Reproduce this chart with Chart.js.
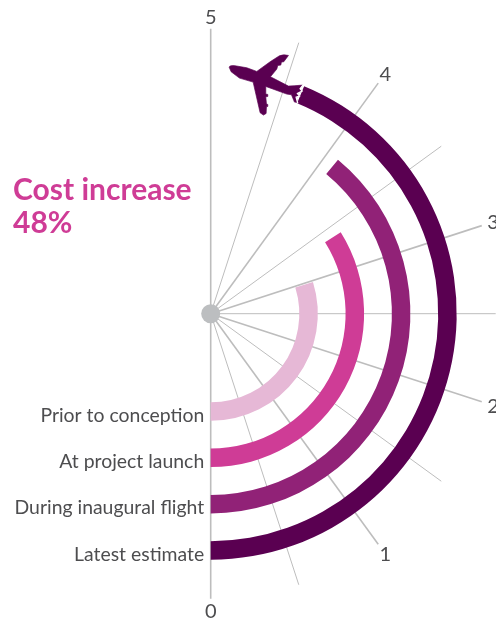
<!DOCTYPE html>
<html>
<head>
<meta charset="utf-8">
<title>Cost increase</title>
<script src="https://cdn.jsdelivr.net/npm/chart.js@4/dist/chart.umd.min.js"></script>
<style>
  html, body { margin: 0; padding: 0; background: #fff; }
  canvas { display: block; }
</style>
</head>
<body>
<canvas id="costChart" width="496" height="620"></canvas>
<script>
// data, outermost ring first
const categories = ['Latest estimate', 'During inaugural flight', 'At project launch', 'Prior to conception'];
const costValues = [4.38, 3.9, 3.39, 2.98];
const ringColors = ['#5a0051', '#912277', '#cf3c96', '#e6b8d6'];
const majorTicks = [0, 1, 2, 3, 4, 5];
const minorTicks = [0.5, 1.5, 2.5, 3.5, 4.5];
const axisMax = 5;
const headline = ['Cost increase', '48%'];

const FONT = 'Lato, sans-serif';
const GRID = '#bdbdbd';
const INK = '#4d4d4f';

// ring geometry in px
const OUTER_R = 246;
const RING_W = 18.5;
const RING_GAP = 27.8;
const SPOKE_R = 285;
const LABEL_R = 297;
const INNER_R = OUTER_R - categories.length * RING_W - (categories.length - 1) * RING_GAP;

// value 0 sits at the bottom, value 5 at the top, running through the right side
function valueAngle(v) {
  return Math.PI / 2 - v / axisMax * Math.PI;
}

function polar(c, r, v) {
  const a = valueAngle(v);
  return { x: c.x + r * Math.cos(a), y: c.y + r * Math.sin(a) };
}

function ringCentre(chart) {
  const arc = chart.getDatasetMeta(0).data[0];
  return { x: arc.x, y: arc.y };
}

// plane icon, 3 units to a px, origin offset from the end of the outer ring
const planeIcon = new Path2D('M27 68 Q29 62 45 64 L80 70 L110 81 L150 52 L178 34 Q190 29 205 33 L191 52 L184 53 L182 62 L173 63 L170 74 L151 97 L205 125 L222 124 L248 122 L240 133 L246 140 L232 147 L238 155 L228 158 L232 174 L223 173 L214 151 L200 149 L137 126 L137 149 L143 150 L143 156 L137 157 L139 179 L143 180 L143 186 L139 187 L138 207 L130 212 L120 205 L99 113 L58 101 L33 82 Z');
const planeTear = 'M250 120 L240 133 L246 140 L232 147 L238 155 L228 158 L233 177';

const radialDecor = {
  id: 'radialDecor',
  beforeDatasetsDraw(chart) {
    const ctx = chart.ctx;
    const c = ringCentre(chart);
    ctx.save();
    ctx.strokeStyle = GRID;
    ctx.lineWidth = 1;
    minorTicks.forEach(v => {
      const p = polar(c, SPOKE_R, v);
      ctx.beginPath();
      ctx.moveTo(c.x, c.y);
      ctx.lineTo(p.x, p.y);
      ctx.stroke();
    });
    ctx.lineWidth = 1.6;
    majorTicks.forEach(v => {
      const p = polar(c, SPOKE_R, v);
      ctx.beginPath();
      ctx.moveTo(c.x, c.y);
      ctx.lineTo(p.x, p.y);
      ctx.stroke();
    });
    ctx.restore();
  },
  afterDatasetsDraw(chart) {
    const ctx = chart.ctx;
    const c = ringCentre(chart);
    ctx.save();

    // hub
    ctx.fillStyle = '#bcbec0';
    ctx.beginPath();
    ctx.arc(c.x, c.y, 9.5, 0, Math.PI * 2);
    ctx.fill();

    // tick labels round the outside
    ctx.fillStyle = INK;
    ctx.font = '20px ' + FONT;
    ctx.textAlign = 'center';
    ctx.textBaseline = 'middle';
    majorTicks.forEach(v => {
      const p = polar(c, LABEL_R, v);
      ctx.fillText(String(v), p.x, p.y + 1);
    });

    // ring names, right aligned against the zero line
    ctx.textAlign = 'right';
    ctx.font = '19.4px ' + FONT;
    categories.forEach((name, i) => {
      const arc = chart.getDatasetMeta(i * 2).data[1];
      const mid = (arc.innerRadius + arc.outerRadius) / 2;
      ctx.fillText(name, c.x - 6.5, c.y + mid + 4);
    });

    // headline
    ctx.fillStyle = '#cf3c96';
    ctx.font = '700 30px ' + FONT;
    ctx.textAlign = 'left';
    ctx.textBaseline = 'alphabetic';
    ctx.fillText(headline[0], 13, 200);
    ctx.fillText(headline[1], 13, 233);

    // plane at the head of the outer ring
    const tip = polar(c, OUTER_R, costValues[0]);
    ctx.translate(tip.x - 84, tip.y - 41.7);
    ctx.scale(1 / 3, 1 / 3);
    ctx.fillStyle = ringColors[0];
    ctx.strokeStyle = ringColors[0];
    ctx.lineWidth = 2;
    ctx.fill(planeIcon);
    ctx.stroke(planeIcon);
    ctx.strokeStyle = '#fff';
    ctx.lineWidth = 4;
    ctx.stroke(new Path2D(planeTear));
    ctx.restore();
  }
};

// each ring is followed by a see-through spacer ring
const datasets = [];
categories.forEach((name, i) => {
  datasets.push({
    label: name,
    data: [axisMax - costValues[i], costValues[i]],
    backgroundColor: ['rgba(0,0,0,0)', ringColors[i]],
    weight: RING_W
  });
  if (i < categories.length - 1) {
    datasets.push({
      label: 'gap',
      data: [axisMax],
      backgroundColor: 'rgba(0,0,0,0)',
      weight: RING_GAP
    });
  }
});

new Chart(document.getElementById('costChart'), {
  type: 'doughnut',
  data: { labels: ['rest', 'value'], datasets: datasets },
  options: {
    responsive: false,
    animation: false,
    rotation: 0,
    circumference: 180,
    radius: OUTER_R,
    cutout: (INNER_R / OUTER_R * 100) + '%',
    borderWidth: 0,
    layout: { padding: { left: 171.4, top: 7.4, right: 0, bottom: 0 } },
    plugins: {
      legend: { display: false },
      tooltip: { enabled: false }
    }
  },
  plugins: [radialDecor]
});
</script>
</body>
</html>
